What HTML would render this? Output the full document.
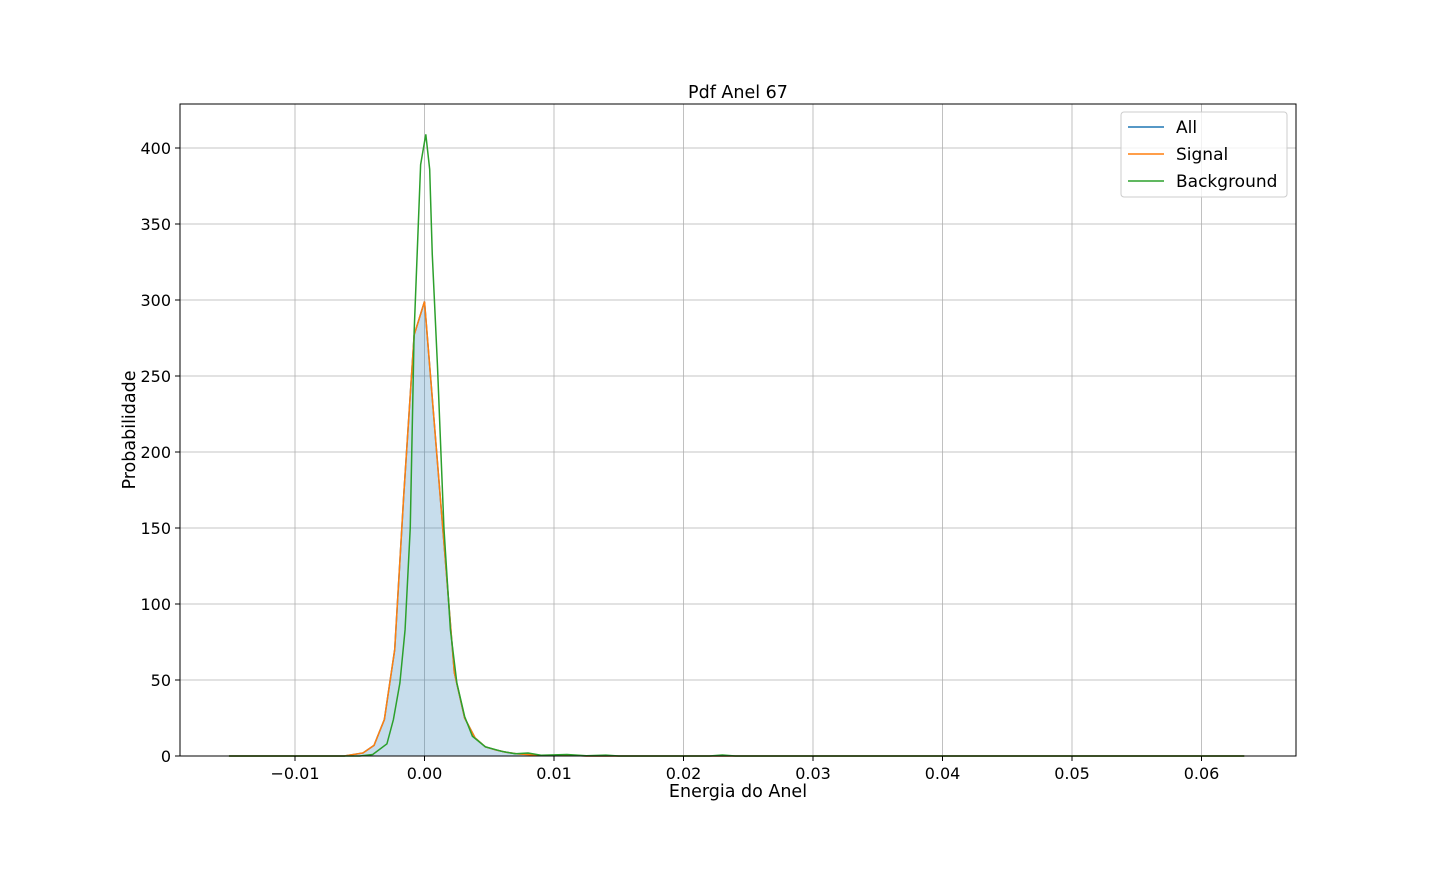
<!DOCTYPE html>
<html><head><meta charset="utf-8"><style>
body{margin:0;background:#fff;}
svg text{font-family:"DejaVu Sans","Liberation Sans",sans-serif;fill:#000;}
</style></head><body>
<svg id="chart" width="1440" height="864" xmlns="http://www.w3.org/2000/svg">
<rect width="1440" height="864" fill="#fff"/>
<g id="grid"></g>
<g id="marks"></g>
<rect x="180" y="104" width="1116" height="652" fill="none" stroke="#000" stroke-width="1"/>
<g id="ticks"></g>
<text x="738" y="98" font-size="17.5" text-anchor="middle">Pdf Anel 67</text>
<text x="738" y="797" font-size="17.5" text-anchor="middle">Energia do Anel</text>
<text transform="translate(135,430) rotate(-90)" font-size="17.5" text-anchor="middle">Probabilidade</text>
<g>
<rect x="1121" y="112" width="166" height="85" rx="3" fill="#fff" fill-opacity="0.8" stroke="#ccc"/>
<g><line x1="1128" y1="127" x2="1164" y2="127" stroke="#1f77b4" stroke-width="1.5"/><text x="1176" y="133" font-size="17">All</text></g>
<g><line x1="1128" y1="154" x2="1164" y2="154" stroke="#ff7f0e" stroke-width="1.5"/><text x="1176" y="160" font-size="17">Signal</text></g>
<g><line x1="1128" y1="181" x2="1164" y2="181" stroke="#2ca02c" stroke-width="1.5"/><text x="1176" y="187" font-size="17">Background</text></g>
</g>
</svg>
<script>
const xTicks=[-0.01,0,0.01,0.02,0.03,0.04,0.05,0.06];
const xTickLabels=["\u22120.01","0.00","0.01","0.02","0.03","0.04","0.05","0.06"];
const yTicks=[0,50,100,150,200,250,300,350,400];
const sigX=[-0.0151,-0.0062,-0.00475,-0.0039,-0.0031,-0.0023,-0.0016,-0.0008,0,0.0007,0.0016,0.0023,0.0031,0.0039,0.0047,0.0055,0.0063,0.0071,0.0079,0.0087,0.0095,0.0110,0.0125,0.0633];
const sigY=[0,0,2,7,24,70,172,277,299,225,130,55,25,12,6,4,2.5,1.5,1,0.5,0.3,0.6,0,0];
const allX=sigX;
const allY=[0,0,2,7,24,70,172,277,299,225,130,55,25,12,6,4,2.5,1.5,1.2,0.5,0.3,0.6,0,0];
const bkgX=[-0.0151,-0.005,-0.004,-0.0029,-0.0024,-0.0019,-0.0015,-0.0011,-0.0008,-0.0003,0.0001,0.0004,0.0006,0.001,0.0015,0.002,0.0025,0.0031,0.0037,0.0047,0.006,0.007,0.008,0.009,0.011,0.0125,0.014,0.015,0.022,0.023,0.024,0.0633];
const bkgY=[0,0,1,8,24,48,83,150,279,389,409,386,330,257,150,83,48,26,13,6,3,1.5,2,0.5,1,0.2,0.6,0,0,0.7,0,0];
const NS="http://www.w3.org/2000/svg";
function sx(v){return 424.5+v*12950;}
function sy(v){return 756-v*1.52;}
const grid=document.getElementById('grid'),ticks=document.getElementById('ticks'),marks=document.getElementById('marks');
function mk(tag,attrs,parent){const e=document.createElementNS(NS,tag);for(const k in attrs)e.setAttribute(k,attrs[k]);parent.appendChild(e);return e;}
xTicks.forEach((t,i)=>{
  const x=sx(t);
  const g=mk('line',{x1:x,x2:x,y1:104,y2:756,stroke:'#b0b0b0','stroke-width':0.8},grid);
  
  
  const tk=mk('line',{x1:x,x2:x,y1:756,y2:761,stroke:'#000'},ticks);
  
  
  const tx=mk('text',{x:x,y:779,'font-size':16,'text-anchor':'middle'},ticks);
  tx.textContent=xTickLabels[i];
  
  
});
yTicks.forEach(t=>{
  const y=sy(t);
  const g=mk('line',{x1:180,x2:1296,y1:y,y2:y,stroke:'#b0b0b0','stroke-width':0.8},grid);
  
  
  const tk=mk('line',{x1:175,x2:180,y1:y,y2:y,stroke:'#000'},ticks);
  
  
  const tx=mk('text',{x:171,y:y+6,'font-size':16,'text-anchor':'end'},ticks);
  tx.textContent=String(t);
  
  
});
function pts(X,Y){return X.map((x,i)=>sx(x).toFixed(2)+','+sy(Y[i]).toFixed(2)).join(' ');}
const fill=mk('polygon',{points:sx(allX[0])+','+sy(0)+' '+pts(allX,allY)+' '+sx(allX[allX.length-1])+','+sy(0),fill:'#1f77b4','fill-opacity':0.25},marks);


const la=mk('polyline',{points:pts(allX,allY),fill:'none',stroke:'#1f77b4','stroke-width':1.5},marks);


const ls=mk('polyline',{points:pts(sigX,sigY),fill:'none',stroke:'#ff7f0e','stroke-width':1.5},marks);


const lb=mk('polyline',{points:pts(bkgX,bkgY),fill:'none',stroke:'#2ca02c','stroke-width':1.5},marks);


</script>
</body></html>
